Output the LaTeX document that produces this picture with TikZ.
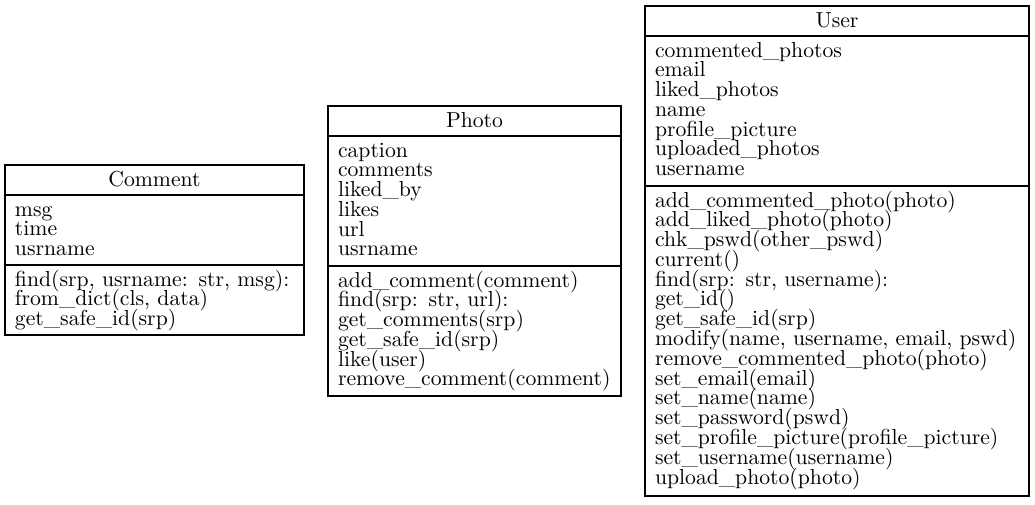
\documentclass[tikz,border=0pt]{standalone}
\usetikzlibrary{positioning}
% one pixel of the layout
\newcommand{\px}{0.4608pt}

\begin{document}
\begin{tikzpicture}[x=\px, y=-\px,
    box/.style={draw, line width=0.5pt, outer sep=0pt, inner xsep=10*\px, inner ysep=0pt,
        font={\fontsize{10}{9.12}\selectfont\lineskiplimit=-20pt}},
    % a compartment with #1 lines of text
    part/.style={box, align=left, text height=21*\px, text depth=(20*#1-11)*\px},
    title/.style={part=1, align=center}]
    \useasboundingbox (0,0) rectangle (1035,504);

    % ---- Comment ----
    \node[title, text width=279*\px, anchor=north west] (comment) at (5,165) {Comment};
    \node[part=3, text width=279*\px, below=0pt of comment] (commentattr)
        {msg\\ time\\ usrname};
    \node[part=3, text width=279*\px, below=0pt of commentattr] (commentops)
        {find(srp, usrname: str, msg):\\ from\_dict(cls, data)\\ get\_safe\_id(srp)};

    % ---- Photo ----
    \node[title, text width=273*\px, anchor=north west] (photo) at (328,106) {Photo};
    \node[part=6, text width=273*\px, below=0pt of photo] (photoattr)
        {caption\\ comments\\ liked\_by\\ likes\\ url\\ usrname};
    \node[part=6, text width=273*\px, below=0pt of photoattr] (photoops)
        {add\_comment(comment)\\ find(srp: str, url):\\ get\_comments(srp)\\
         get\_safe\_id(srp)\\ like(user)\\ remove\_comment(comment)};

    % ---- User ----
    \node[title, text width=364*\px, anchor=north west] (user) at (645,6) {User};
    \node[part=7, text width=364*\px, below=0pt of user] (userattr)
        {commented\_photos\\ email\\ liked\_photos\\ name\\ profile\_picture\\
         uploaded\_photos\\ username};
    \node[part=15, text width=364*\px, below=0pt of userattr] (userops)
        {add\_commented\_photo(photo)\\ add\_liked\_photo(photo)\\ chk\_pswd(other\_pswd)\\
         current()\\ find(srp: str, username):\\ get\_id()\\ get\_safe\_id(srp)\\
         modify(name, username, email, pswd)\\ remove\_commented\_photo(photo)\\
         set\_email(email)\\ set\_name(name)\\ set\_password(pswd)\\
         set\_profile\_picture(profile\_picture)\\ set\_username(username)\\
         upload\_photo(photo)};
\end{tikzpicture}
\end{document}
